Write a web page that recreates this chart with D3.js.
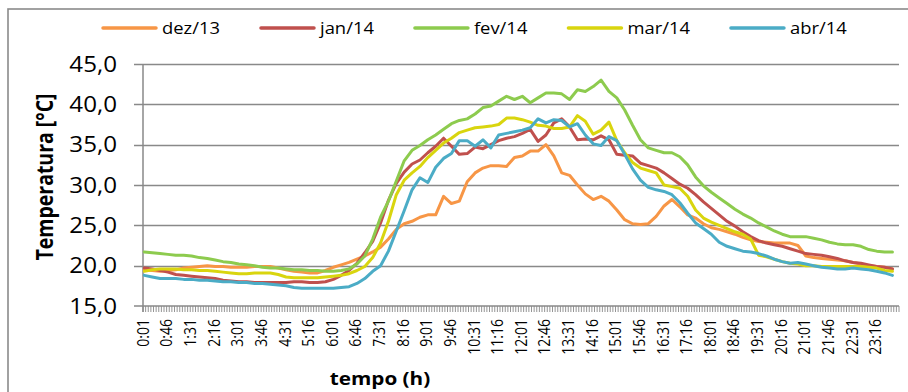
<!DOCTYPE html>
<html><head><meta charset="utf-8">
<script src="https://cdn.jsdelivr.net/npm/d3@7"></script>
<style>
body{margin:0;background:#fff}
svg{display:block}
text{font-family:"Open Sans",sans-serif;fill:#000}
</style>
</head><body>
<svg id="c" width="908" height="392"></svg>
<script>
// ---- data (samples every 15 min, starting 0:01) ----
const seriesNames = ["dez/13","jan/14","fev/14","mar/14","abr/14"];
const seriesColors = ["#F79646","#C0504D","#8DCB4E","#D9D50E","#4BACC6"];
const dez13 = [19.5,19.4,19.3,19.4,19.5,19.7,19.8,19.9,20.0,19.9,
  19.9,19.8,19.8,19.8,19.9,19.9,19.9,19.7,19.5,19.3,
  19.2,19.1,19.1,19.4,19.8,20.1,20.4,20.8,21.2,21.7,
  22.3,23.3,24.5,25.2,25.5,26.0,26.3,26.3,28.6,27.7,
  28.0,30.4,31.5,32.1,32.4,32.4,32.3,33.4,33.6,34.2,
  34.2,35.0,33.6,31.5,31.2,30.0,28.9,28.2,28.6,28.0,
  26.9,25.7,25.2,25.1,25.2,26.1,27.4,28.2,27.3,26.3,
  25.9,25.2,24.7,24.5,24.2,23.9,23.5,23.2,23.0,22.9,
  22.8,22.8,22.8,22.5,21.2,21.0,20.9,20.8,20.7,20.6,
  20.4,20.2,20.0,19.9,19.8,19.6];
const jan14 = [19.7,19.6,19.4,19.2,18.9,18.8,18.7,18.6,18.5,18.4,
  18.2,18.1,18.0,18.0,17.9,17.9,17.9,17.9,17.9,18.0,
  18.0,17.9,17.9,18.0,18.3,18.8,19.4,20.3,21.6,23.0,
  25.3,28.1,30.2,31.6,32.6,33.1,34.0,34.8,35.8,34.8,
  33.8,33.9,34.7,34.5,35.0,35.5,35.8,36.0,36.4,36.9,
  35.4,36.2,37.7,38.2,37.2,35.6,35.7,35.6,36.1,35.6,
  33.8,33.7,33.6,32.7,32.4,32.1,31.5,30.8,30.1,29.6,
  28.8,27.9,27.1,26.3,25.5,24.9,24.2,23.6,23.1,22.8,
  22.6,22.4,22.1,21.8,21.5,21.4,21.3,21.1,20.9,20.6,
  20.4,20.3,20.1,19.9,19.8,19.6];
const fev14 = [21.7,21.6,21.5,21.4,21.3,21.3,21.2,21.0,20.9,20.7,
  20.5,20.4,20.2,20.1,20.0,19.8,19.7,19.7,19.6,19.5,
  19.5,19.4,19.4,19.3,19.3,19.4,19.6,20.2,21.2,23.3,
  26.0,28.0,30.5,33.0,34.3,34.9,35.6,36.2,36.9,37.6,
  38.0,38.2,38.8,39.6,39.8,40.4,41.0,40.6,41.0,40.2,
  40.8,41.4,41.4,41.3,40.6,41.8,41.6,42.2,43.0,41.6,
  40.8,39.3,37.4,35.6,34.6,34.3,34.0,34.0,33.5,32.5,
  31.0,29.9,29.1,28.4,27.7,27.0,26.4,25.9,25.3,24.8,
  24.3,23.9,23.6,23.6,23.6,23.4,23.2,22.9,22.7,22.6,
  22.6,22.4,22.0,21.8,21.7,21.7];
const mar14 = [19.3,19.5,19.6,19.6,19.6,19.5,19.5,19.4,19.4,19.3,
  19.2,19.1,19.0,19.0,19.1,19.1,19.1,18.9,18.6,18.5,
  18.5,18.5,18.5,18.6,18.7,18.8,19.0,19.4,19.9,21.0,
  22.8,25.5,28.8,30.6,31.5,32.3,33.4,34.3,35.2,35.8,
  36.5,36.8,37.1,37.2,37.3,37.5,38.3,38.3,38.1,37.8,
  37.4,37.3,37.0,37.0,37.2,38.6,37.9,36.3,36.8,37.8,
  35.5,34.0,32.8,32.1,31.8,31.5,30.0,29.8,29.6,28.6,
  26.9,25.9,25.4,25.0,24.6,24.2,23.9,23.3,21.3,21.1,
  20.8,20.5,20.3,20.2,20.0,20.0,19.9,19.9,19.9,19.9,
  19.9,19.9,19.8,19.7,19.4,19.3];
const abr14 = [18.8,18.6,18.4,18.4,18.4,18.3,18.3,18.2,18.2,18.1,
  18.0,18.0,17.9,17.9,17.8,17.8,17.7,17.6,17.5,17.3,
  17.2,17.2,17.2,17.2,17.2,17.3,17.4,17.8,18.4,19.3,
  20.0,21.8,24.3,26.8,29.4,30.9,30.3,32.2,33.3,33.9,
  35.5,35.5,34.8,35.6,34.6,36.2,36.4,36.6,36.8,37.1,
  38.2,37.7,38.1,38.0,37.2,37.6,36.2,35.1,34.9,36.0,
  35.5,33.8,32.0,30.6,29.7,29.4,29.2,28.8,27.8,26.5,
  25.3,24.6,23.9,22.9,22.4,22.1,21.8,21.7,21.5,21.2,
  20.8,20.5,20.3,20.4,20.2,20.0,19.8,19.7,19.6,19.6,
  19.7,19.6,19.5,19.3,19.1,18.8];
const seriesValues = [dez13, jan14, fev14, mar14, abr14];
const yTicks = [15,20,25,30,35,40,45];
const xTickLabels = ["0:01","0:46","1:31","2:16","3:01","3:46","4:31","5:16","6:01","6:46",
  "7:31","8:16","9:01","9:46","10:31","11:16","12:01","12:46","13:31","14:16","15:01",
  "15:46","16:31","17:16","18:01","18:46","19:31","20:16","21:01","21:46","22:31","23:16"];
const yTitle = "Temperatura [°C]";
const xTitle = "tempo (h)";

// ---- categories: every 5 minutes from 0:01 ----
const fmt = m => Math.floor(m/60) + ":" + String(m%60).padStart(2,"0");
const categories = d3.range(288).map(i => fmt(1 + 5*i));
const sampleTimes = d3.range(96).map(k => fmt(1 + 15*k));

const svg = d3.select("#c");
const SX = 1.15; // horizontal text stretch
const L = 143, R = 899, T = 64, B = 306;
const x = d3.scaleBand().domain(categories).range([L, R]).padding(0);
const y = d3.scaleLinear().domain([15,45]).range([B, T]);
const bw = x.bandwidth();
const grey = "#898989";

// outer border
svg.append("rect").attr("x",8).attr("y",9).attr("width",920).attr("height",400)
  .attr("fill","none").attr("stroke","#8a8a8a").attr("stroke-width",1.6);

// gridlines + y ticks
svg.append("g").selectAll("line").data(yTicks.filter(d=>d>15)).join("line")
  .attr("x1",L-9).attr("x2",R).attr("y1",d=>Math.round(y(d))+0.5).attr("y2",d=>Math.round(y(d))+0.5)
  .attr("stroke",grey).attr("stroke-width",1.4);
// x axis line with tick
svg.append("line").attr("x1",L-9).attr("x2",R).attr("y1",B).attr("y2",B)
  .attr("stroke",grey).attr("stroke-width",1.5);
// y axis line
svg.append("line").attr("x1",L).attr("x2",L).attr("y1",T).attr("y2",B+6)
  .attr("stroke",grey).attr("stroke-width",1.5);
// dense x tick marks at band boundaries
const tickPath = d3.range(289).map(i => { const xx = (L + i*bw).toFixed(2); return `M${xx},${B}V${B+6}`; }).join("");
svg.append("path").attr("d",tickPath).attr("stroke",grey).attr("stroke-width",0.9).attr("fill","none");

// y tick labels
svg.append("g").selectAll("text").data(yTicks).join("text")
  .attr("transform",d=>`translate(117,${y(d)+7.5}) scale(${SX},1)`)
  .attr("text-anchor","end").style("font-size","21px").text(d=>d.toFixed(1).replace(".",","));

// x tick labels
svg.append("g").selectAll("text").data(xTickLabels).join("text")
  .attr("transform",d=>`translate(${x(d)+bw/2+4.5},319) rotate(-90) scale(1,${SX})`)
  .attr("text-anchor","end").style("font-size","14px").text(d=>d);

// axis titles
svg.append("text").attr("transform",`translate(53,177) rotate(-90) scale(1,${SX})`)
  .attr("text-anchor","middle").style("font-size","19.5px").style("font-weight","bold").text(yTitle);
svg.append("text").attr("transform",`translate(380,385) scale(${SX},1)`)
  .attr("text-anchor","middle").style("font-size","18px").style("font-weight","bold").text(xTitle);

// series lines
const line = d3.line().x((d,i)=>x(sampleTimes[i])+bw/2).y(d=>y(d));
svg.append("g").selectAll("path").data(seriesValues).join("path")
  .attr("d",d=>line(d)).attr("fill","none")
  .attr("stroke",(d,i)=>seriesColors[i]).attr("stroke-width",3)
  .attr("stroke-linejoin","round").attr("stroke-linecap","round");

// legend
let lx = 103;
const lg = svg.append("g");
seriesNames.forEach((n,i)=>{
  lg.append("line").attr("x1",lx).attr("x2",lx+53).attr("y1",28).attr("y2",28)
    .attr("stroke",seriesColors[i]).attr("stroke-width",3.5).attr("stroke-linecap","round");
  const t = lg.append("text").attr("transform",`translate(${lx+59},33.5) scale(${SX},1)`)
    .style("font-size","16px").text(n);
  const w = t.node().getComputedTextLength()*SX;
  lx += 59 + w + 41;
});
</script>
</body></html>
